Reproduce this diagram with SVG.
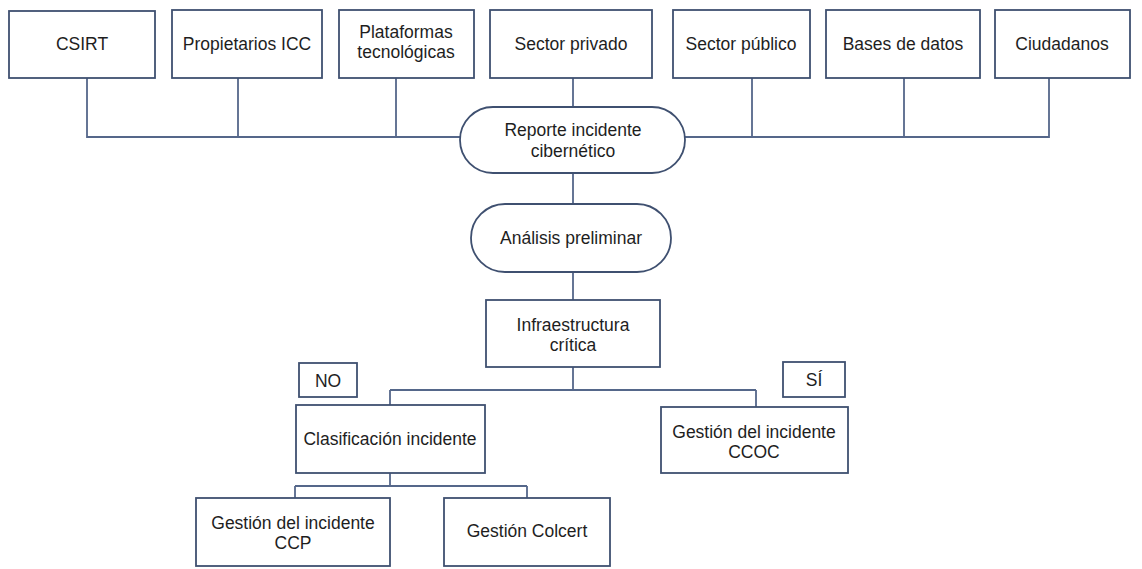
<svg xmlns="http://www.w3.org/2000/svg" width="1142" height="569" viewBox="0 0 1142 569">
<style>
.box{fill:#fff;stroke:#3f5070;stroke-width:1.8}
.ln{fill:none;stroke:#55678a;stroke-width:1.8}
text{font-family:"Liberation Sans",Arial,sans-serif;font-size:17.5px;fill:#1e1e1e;text-anchor:middle}
</style>
<rect width="1142" height="569" fill="#fff"/>
<g id="connectors">
<path class="ln" d="M87 78V137H1049V78M238 78V137M396 78V137M573 78V107M752 78V137M904 78V137"/>
<path class="ln" d="M573 173V205M573 272V300M573 367V390M390 390H756M390 390V405M756 390V407"/>
<path class="ln" d="M390 473V486M295 486H527M295 486V498M527 486V498"/>
</g>
<g id="csirt"><rect class="box" x="9" y="11" width="146" height="67"/><text x="82" y="50">CSIRT</text></g>
<g id="propietarios"><rect class="box" x="172" y="10" width="150" height="68"/><text x="247" y="50">Propietarios ICC</text></g>
<g id="plataformas"><rect class="box" x="339" y="10" width="135" height="68"/><text x="406" y="38">Plataformas</text><text x="406" y="58">tecnológicas</text></g>
<g id="sector-privado"><rect class="box" x="490" y="10" width="162" height="68"/><text x="571" y="50">Sector privado</text></g>
<g id="sector-publico"><rect class="box" x="673" y="10" width="137" height="68"/><text x="741" y="50">Sector público</text></g>
<g id="bases-datos"><rect class="box" x="826" y="10" width="154" height="68"/><text x="903" y="50">Bases de datos</text></g>
<g id="ciudadanos"><rect class="box" x="995" y="10" width="135" height="68"/><text x="1062" y="50">Ciudadanos</text></g>
<g id="reporte"><rect class="box" x="460" y="107" width="225" height="66" rx="33" ry="33"/><text x="573" y="136">Reporte incidente</text><text x="573" y="157">cibernético</text></g>
<g id="analisis"><rect class="box" x="471" y="204" width="200" height="68" rx="34" ry="34"/><text x="571" y="244">Análisis preliminar</text></g>
<g id="infraestructura"><rect class="box" x="486" y="300" width="174" height="67"/><text x="573" y="331">Infraestructura</text><text x="573" y="351">crítica</text></g>
<g id="no"><rect class="box" x="299" y="363" width="58" height="34"/><text x="328" y="387">NO</text></g>
<g id="si"><rect class="box" x="783" y="362" width="62" height="35"/><text x="814" y="386">SÍ</text></g>
<g id="clasificacion"><rect class="box" x="296" y="405" width="189" height="68"/><text x="390" y="445">Clasificación incidente</text></g>
<g id="gestion-ccoc"><rect class="box" x="661" y="407" width="187" height="66"/><text x="754" y="438">Gestión del incidente</text><text x="754" y="458">CCOC</text></g>
<g id="gestion-ccp"><rect class="box" x="196" y="498" width="194" height="68"/><text x="293" y="529">Gestión del incidente</text><text x="293" y="549">CCP</text></g>
<g id="gestion-colcert"><rect class="box" x="444" y="498" width="166" height="68"/><text x="527" y="537">Gestión Colcert</text></g>
</svg>
